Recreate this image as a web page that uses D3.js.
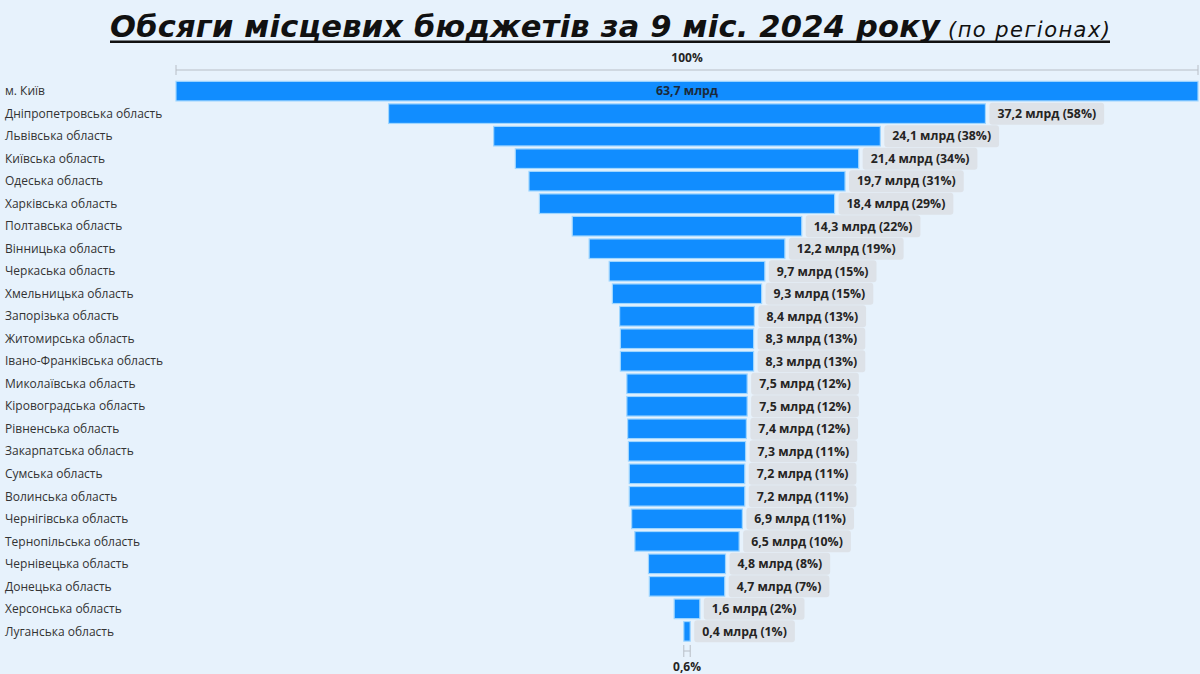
<!DOCTYPE html>
<html><head><meta charset="utf-8">
<script src="https://cdn.jsdelivr.net/npm/d3@7"></script>
<style>
html,body{margin:0;padding:0;background:#e7f2fc;}
svg{display:block;}
</style></head>
<body>
<svg id="c" width="1200" height="674"></svg>
<script>
const categories = ["м. Київ","Дніпропетровська область","Львівська область","Київська область","Одеська область","Харківська область","Полтавська область","Вінницька область","Черкаська область","Хмельницька область","Запорізька область","Житомирська область","Івано-Франківська область","Миколаївська область","Кіровоградська область","Рівненська область","Закарпатська область","Сумська область","Волинська область","Чернігівська область","Тернопільська область","Чернівецька область","Донецька область","Херсонська область","Луганська область"];
const values = [63.7,37.2,24.1,21.4,19.7,18.4,14.3,12.2,9.7,9.3,8.4,8.3,8.3,7.5,7.5,7.4,7.3,7.2,7.2,6.9,6.5,4.8,4.7,1.6,0.4];
const percents = [100,58,38,34,31,29,22,19,15,15,13,13,13,12,12,12,11,11,11,11,10,8,7,2,1];
const topLabel = "100%";
const bottomLabel = "0,6%";
const titleMain = "Обсяги місцевих бюджетів за 9 міс. 2024 року";
const titleSub = "(по регіонах)";

const svg = d3.select("#c");
const left = 176, right = 1198, cx = (left+right)/2;
const w = d3.scaleLinear().domain([0, d3.max(values)]).range([0, right-left]);
const y = d3.scaleBand().domain(categories).range([80, 642.5]).paddingInner(0.13).paddingOuter(0.06);
const fmt = v => d3.format(".1f")(v).replace(".", ",");

// title
const tg = svg.append("g");
const t1 = tg.append("text").attr("y", 37)
  .attr("font-family","DejaVu Sans").attr("font-weight","bold").attr("font-style","italic")
  .attr("font-size",30.5).attr("fill","#111").text(titleMain);
const t2 = tg.append("text").attr("y", 37)
  .attr("font-family","DejaVu Sans").attr("font-style","italic").attr("font-weight","normal")
  .attr("font-size",21).attr("fill","#111").text(titleSub);
let l1 = t1.node().getComputedTextLength();
const target1 = 830;
t1.attr("letter-spacing", (target1 - l1) / (titleMain.length - 1));
l1 = target1;
let l2 = t2.node().getComputedTextLength();
const target2 = 162;
t2.attr("letter-spacing", (target2 - l2) / (titleSub.length - 1));
l2 = target2;
const tx = 110, gap = 8;
t1.attr("x", tx); t2.attr("x", tx + l1 + gap);
tg.append("rect").attr("x", tx).attr("y", 40.5).attr("width", l1 + gap + l2).attr("height", 2.5).attr("fill","#111");

// top axis
svg.append("line").attr("x1",left).attr("x2",right).attr("y1",70).attr("y2",70).attr("stroke","#b8bec6").attr("stroke-width",1);
[left,right].forEach(x=>svg.append("line").attr("x1",x).attr("x2",x).attr("y1",65).attr("y2",75).attr("stroke","#b8bec6"));
svg.append("text").attr("x",cx).attr("y",62).attr("text-anchor","middle")
  .attr("font-family","Open Sans").attr("font-weight","bold").attr("font-size",12).attr("fill","#252423").text(topLabel);

// category labels
svg.append("g").selectAll("text").data(categories).join("text")
  .attr("x",5).attr("y",d=>y(d)+y.bandwidth()/2).attr("dy","0.35em")
  .attr("font-family","Open Sans").attr("font-size",12).attr("fill","#333")
  .text(d=>d);

// bars
svg.append("g").selectAll("rect").data(values).join("rect")
  .attr("x",v=>cx - w(v)/2).attr("y",(v,i)=>y(categories[i]))
  .attr("width",v=>w(v)).attr("height",y.bandwidth())
  .attr("fill","#118dff").attr("stroke","#9fd6ff").attr("stroke-width",1.2);

// labels
const lg = svg.append("g");
values.forEach((v,i)=>{
  const yc = y(categories[i]) + y.bandwidth()/2;
  if (i===0){
    lg.append("text").attr("x",cx).attr("y",yc).attr("dy","0.35em").attr("text-anchor","middle")
      .attr("font-family","Open Sans").attr("font-weight","bold").attr("font-size",12.3).attr("fill","#1b2a3a")
      .text(fmt(v)+" млрд");
    return;
  }
  const x0 = cx + w(v)/2 + 4;
  const g = lg.append("g");
  const r = g.append("rect").attr("x",x0).attr("y",yc-11).attr("height",22).attr("rx",3).attr("fill","#dde2e8");
  const t = g.append("text").attr("x",x0+8).attr("y",yc).attr("dy","0.35em")
    .attr("font-family","Open Sans").attr("font-weight","bold").attr("font-size",12.3).attr("fill","#252423")
    .text(fmt(v)+" млрд ("+percents[i]+"%)");
  r.attr("width", t.node().getComputedTextLength()+16);
});

// bottom bracket
const lastW = w(values[values.length-1]);
const by = 651;
svg.append("line").attr("x1",cx-lastW/2).attr("x2",cx+lastW/2).attr("y1",by).attr("y2",by).attr("stroke","#b8bec6");
[cx-lastW/2, cx+lastW/2].forEach(x=>svg.append("line").attr("x1",x).attr("x2",x).attr("y1",by-6).attr("y2",by+6).attr("stroke","#b8bec6"));
svg.append("text").attr("x",cx).attr("y",671).attr("text-anchor","middle")
  .attr("font-family","Open Sans").attr("font-weight","bold").attr("font-size",12).attr("fill","#252423").text(bottomLabel);
</script>
</body></html>
